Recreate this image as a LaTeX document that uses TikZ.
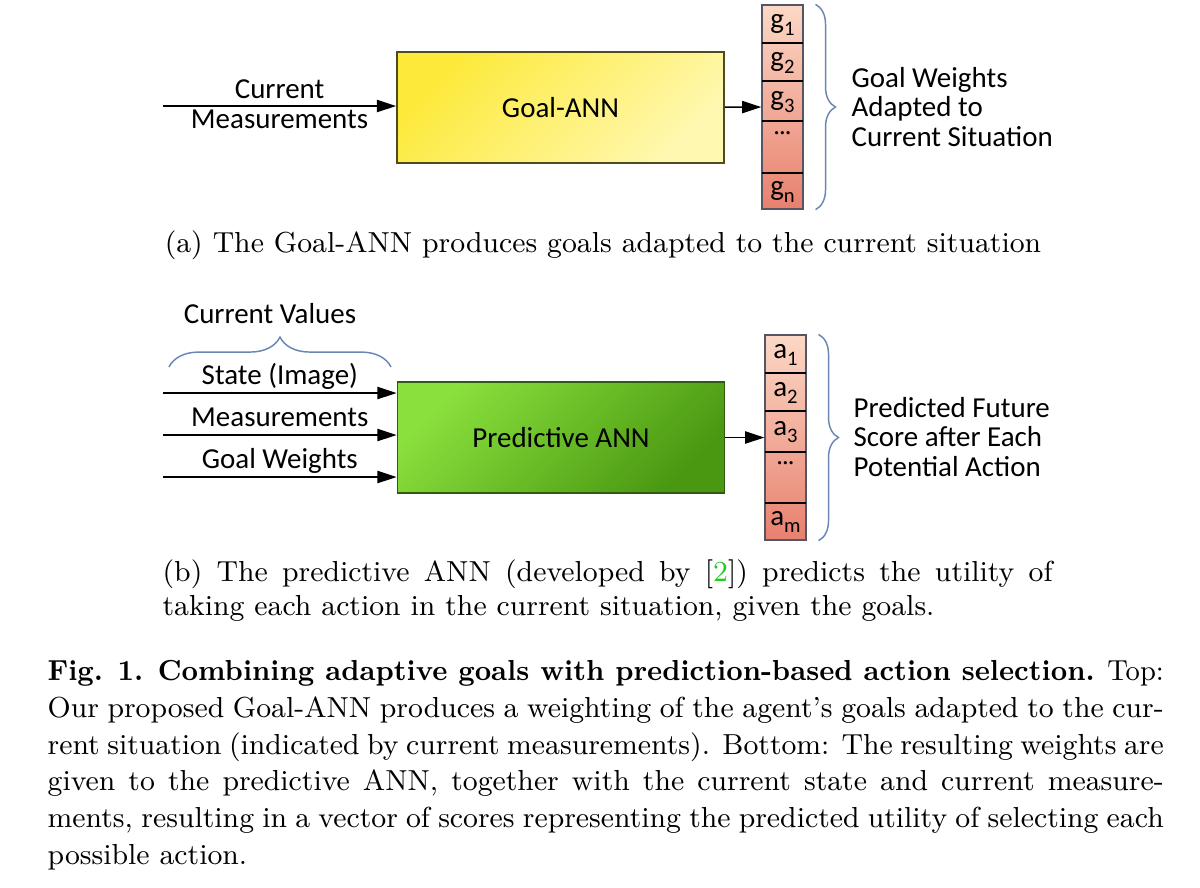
\documentclass[tikz,border=0pt]{standalone}
\usepackage{fontspec}
\usepackage{xcolor}
\usepackage{graphicx}
\usepackage{tikz}
\usetikzlibrary{arrows.meta, positioning, decorations.pathreplacing}
\newfontfamily\diagfont{Carlito}
\newcommand{\vsub}[1]{\raisebox{-0.55ex}{\fontsize{6.4}{6.4}\selectfont #1}}
\definecolor{goalyellow}{HTML}{FDE93A}
\definecolor{goalpale}{HTML}{FFF8B0}
\definecolor{goalline}{HTML}{4E4A22}
\definecolor{predlight}{HTML}{8AE03C}
\definecolor{preddark}{HTML}{4A9812}
\definecolor{predline}{HTML}{2F5A12}
\definecolor{veclight}{HTML}{FCD8C6}
\definecolor{vecdark}{HTML}{E8806E}
\definecolor{vecline}{HTML}{555566}
\definecolor{bracecol}{HTML}{6A86B2}
\definecolor{citegreen}{HTML}{1FCC1F}

\begin{document}
\begin{tikzpicture}[
    x=0.3109pt, y=-0.3109pt,
    every node/.style={font=\diagfont\fontsize{9}{9.2}\selectfont},
    ann/.style={rectangle, minimum width=101.7pt, minimum height=34.5pt, line width=0.5pt},
    vec/.style={rectangle, draw=vecline, line width=0.4pt, minimum width=12.75pt, top color=veclight, bottom color=vecdark},
    cell/.style={inner sep=0pt},
    divider/.style={line width=0.8pt, black},
    flow/.style={-{Triangle[length=6pt,width=3.8pt]}, line width=0.5pt},
    inlab/.style={anchor=base, yshift=2.5pt, inner sep=0pt},
    brace/.style={decorate, draw=bracecol, line width=0.45pt},
    caption/.style={font=\rmfamily\fontsize{9}{10.6}\selectfont, inner sep=0pt}
]
\useasboundingbox[fill=white] (0,0) rectangle (1200,887);

% (a) Goal-ANN
\node[ann, draw=goalline, top color=goalyellow, bottom color=goalpale, shading angle=45] (goalann) at (560.5,107.5) {Goal-ANN};
\coordinate (cmin) at (163,106);
\draw[flow] (cmin) -- (cmin -| goalann.west) node[midway, align=center, inner sep=0pt, yshift=0.6pt]{Current\\Measurements};

\node[vec, minimum height=63.4pt] (gvec) at (782.5,107) {};
\node[cell] (g1) at (782.5,25) {g\vsub{1}};
\node[cell] (g2) at (782.5,63) {g\vsub{2}};
\node[cell] (g3) at (782.5,102) {g\vsub{3}};
\node[cell, font=\diagfont\fontsize{7}{7}\selectfont] (gdots) at (782.5,136) {···};
\node[cell] (gn) at (782.5,192) {g\vsub{n}};
\draw[divider] (762,43) -- (803,43);
\draw[divider] (762,81) -- (803,81);
\draw[divider] (762,121) -- (803,121);
\draw[divider] (762,173) -- (803,173);
\draw[flow] (goalann) -- (gvec);

\draw[brace, decoration={brace, amplitude=6.2pt}] ([xshift=3.7pt]gvec.north east) -- ([xshift=3.7pt]gvec.south east);
\node[anchor=west, align=left, inner sep=0pt] (gtext) at (851,107) {Goal Weights\\Adapted to\\Current Situation};

\node[caption, anchor=base] (capa) at (603,252) {(a) The Goal-ANN produces goals adapted to the current situation};

% (b) Predictive ANN
\node[ann, draw=predline, top color=predlight, bottom color=preddark, shading angle=45] (predann) at (561,437.5) {Predictive ANN};
\coordinate (sin) at (163,393);
\coordinate (min) at (163,435);
\coordinate (win) at (163,477);
\draw[flow] (sin) -- (sin -| predann.west) node[inlab, midway]{State (Image)};
\draw[flow] (min) -- (min -| predann.west) node[inlab, midway]{Measurements};
\draw[flow] (win) -- (win -| predann.west) node[inlab, midway]{Goal Weights};

\draw[brace, decoration={brace, amplitude=9.3pt}] (169,367) -- (391,367);
\node (curval) at (270,314) {Current Values};

\node[vec, minimum height=63.7pt] (avec) at (785.5,437.5) {};
\node[cell] (a1) at (785.5,355) {a\vsub{1}};
\node[cell] (a2) at (785.5,393) {a\vsub{2}};
\node[cell] (a3) at (785.5,432) {a\vsub{3}};
\node[cell, font=\diagfont\fontsize{7}{7}\selectfont] (adots) at (785.5,466) {···};
\node[cell] (am) at (785.5,522) {a\vsub{m}};
\draw[divider] (765,373) -- (806,373);
\draw[divider] (765,411) -- (806,411);
\draw[divider] (765,452) -- (806,452);
\draw[divider] (765,503) -- (806,503);
\draw[flow] (predann) -- (avec);

\draw[brace, decoration={brace, amplitude=6.2pt}] ([xshift=3.7pt]avec.north east) -- ([xshift=3.7pt]avec.south east);
\node[anchor=west, align=left, inner sep=0pt] (atext) at (853,437) {Predicted Future\\Score after Each\\Potential Action};

\node[caption, anchor=north west, text width=276.7pt, align=justify] (capb) at (162,559) {(b) The predictive ANN (developed by [\textcolor{citegreen}{2}]) predicts the utility of\linebreak taking each action in the current situation, given the goals.};

% Figure caption
\node[caption, anchor=north west, text width=347pt, align=justify, font=\rmfamily\fontsize{9}{11.4}\selectfont] (figcap) at (47,660) {\resizebox{\linewidth}{\height}{\textbf{Fig. 1. Combining adaptive goals with prediction-based action selection.} Top:}\linebreak Our proposed Goal-ANN produces a weighting of the agent's goals adapted to the cur-\linebreak rent situation (indicated by current measurements). Bottom: The resulting weights are\linebreak given to the predictive ANN, together with the current state and current measure-\linebreak ments, resulting in a vector of scores representing the predicted utility of selecting each\linebreak possible action.};
\end{tikzpicture}
\end{document}
